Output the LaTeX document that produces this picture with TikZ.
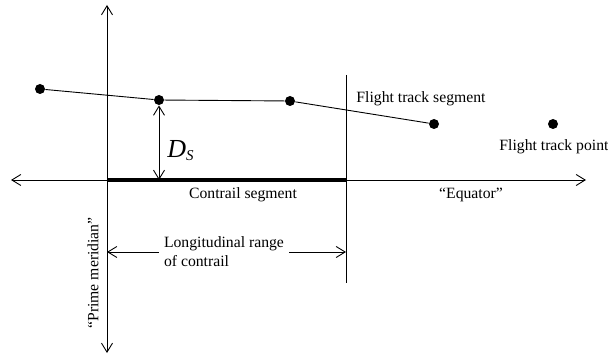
\documentclass[tikz,border=0pt]{standalone}
\usepackage{fontspec}
\setmainfont{Liberation Serif}
\usetikzlibrary{arrows.meta}

\begin{document}
\begin{tikzpicture}[
  x=1pt,y=-1pt,
  font=\fontsize{15.7}{19}\selectfont,
  line width=0.9pt,
  >={Straight Barb[length=9pt,width=11pt]},
  trackpt/.style={circle,fill,inner sep=0pt,minimum size=10pt},
  lbl/.style={inner sep=1pt}
]
  \useasboundingbox (0,0) rectangle (608,358);

  % axes and limits
  \coordinate (eq-w) at (11,180);
  \coordinate (eq-e) at (586,180);
  \coordinate (pm-n) at (107,5);
  \coordinate (pm-s) at (107,353);
  \coordinate (con-w) at (107,180);
  \coordinate (con-e) at (346,180);
  \coordinate (lim-n) at (346,75);
  \coordinate (lim-s) at (346,283);
  \coordinate (ds-foot) at (159,180);
  \coordinate (rng-w) at (107,252);
  \coordinate (rng-e) at (346,252);

  \draw[<->] (eq-w) -- (eq-e);
  \draw[<->] (pm-n) -- (pm-s);
  \draw (lim-n) -- (lim-s);
  \draw[line width=4pt] (con-w) -- (con-e);

  % flight track
  \node[trackpt] (p1) at (40,89) {};
  \node[trackpt] (p2) at (159,100) {};
  \node[trackpt] (p3) at (290,101) {};
  \node[trackpt] (p4) at (434,124) {};
  \node[trackpt] (p5) at (553,124) {};
  \draw (p1) -- (p2) -- (p3) -- (p4);

  \draw[<->] (p2) -- (ds-foot);
  \node[lbl,anchor=base west] (ds) at (166,158)
    {\fontsize{26}{30}\selectfont\itshape D\raisebox{-3pt}{\fontsize{15}{15}\selectfont S}};

  % labels
  \node[lbl,anchor=west] (seg-lbl) at (355,99) {Flight track segment};
  \node[lbl,anchor=west] (pt-lbl) at (498,147) {Flight track point};
  \node[lbl] (con-lbl) at (243,195) {Contrail segment};
  \node[lbl] (eq-lbl) at (471,195) {“Equator”};
  \node[lbl,rotate=90] (pm-lbl) at (93,273) {“Prime meridian”};

  \node[align=left,inner xsep=5pt,inner ysep=1pt] (range) at (224,252)
    {Longitudinal range\\of contrail};
  \draw[->] (range) -- (rng-w);
  \draw[->] (range) -- (rng-e);
\end{tikzpicture}
\end{document}
